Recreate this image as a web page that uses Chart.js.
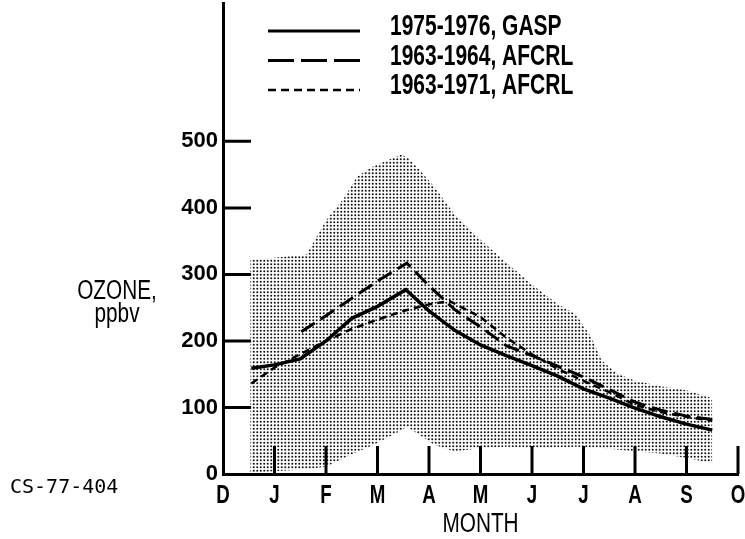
<!DOCTYPE html>
<html>
<head>
<meta charset="utf-8">
<script src="https://cdn.jsdelivr.net/npm/chart.js@4.4.0/dist/chart.umd.min.js"></script>
<style>
  html, body { margin: 0; padding: 0; background: #fff; }
  #wrap { width: 745px; height: 539px; }
</style>
</head>
<body>
<div id="wrap"><canvas id="chart" width="745" height="539"></canvas></div>
<script>
// month axis: 0 = D ... 10 = O
const monthLabels = ['D', 'J', 'F', 'M', 'A', 'M', 'J', 'J', 'A', 'S', 'O'];
const yTickValues = [0, 100, 200, 300, 400, 500];

// 1975-1976, GASP (solid)
const gaspMonths = [0.55, 1.0, 1.5, 2.0, 2.5, 3.0, 3.55, 4.0, 4.5, 5.0, 5.5, 6.0, 6.5, 7.0, 7.5, 8.0, 8.5, 9.0, 9.5];
const gaspOzone  = [159, 164, 173, 200, 234, 252, 277, 245, 216, 194, 178, 163, 147, 128, 114, 99, 86, 75, 66];

// 1963-1964, AFCRL (long dash)
const afcrl6364Months = [1.52, 2.0, 2.5, 3.0, 3.57, 4.0, 4.5, 5.0, 5.5, 6.0, 6.5, 7.0, 7.5, 8.0, 8.5, 9.0, 9.5];
const afcrl6364Ozone  = [214, 238, 264, 290, 317, 283, 247, 221, 193, 178, 162, 146, 127, 108, 96, 87, 82];

// 1963-1971, AFCRL (short dash)
const afcrl6371Months = [0.55, 1.0, 1.5, 2.0, 2.5, 3.0, 3.5, 4.0, 4.4, 5.0, 5.5, 6.0, 6.5, 7.0, 7.5, 8.0, 8.5, 9.0, 9.5];
const afcrl6371Ozone  = [136, 160, 180, 200, 218, 232, 245, 255, 260, 236, 205, 180, 158, 140, 123, 104, 93, 86, 80];

// shaded range of all observations
const bandMonths = [0.53, 1.0, 1.62, 2.0, 2.35, 2.6, 2.9, 3.45, 3.57, 3.75, 4.1, 4.5, 5.0, 5.5, 6.0, 6.5, 6.85, 7.15, 7.35, 7.65, 8.0, 8.5, 9.0, 9.5];
const bandUpper  = [322, 325, 330, 381, 415, 447, 462, 480, 477, 463, 432, 390, 352, 318, 285, 255, 240, 206, 171, 151, 140, 132, 126, 114];
const bandLower  = [2, 4, 7, 11, 24, 33, 43, 65, 71, 62, 44, 34, 39, 41, 39, 40, 41, 40, 39, 37, 34, 31, 24, 16];

function toPoints(xs, ys) {
    return xs.map((x, i) => ({ x: x, y: ys[i] }));
}

// halftone dots for the band
function makeDots() {
    const tile = document.createElement('canvas');
    tile.width = 7;
    tile.height = 7;
    const t = tile.getContext('2d');
    t.fillStyle = '#111';
    [[1.75, 1.75], [5.25, 1.75], [1.75, 5.25], [5.25, 5.25]].forEach(p => {
        t.beginPath();
        t.arc(p[0], p[1], 1.0, 0, Math.PI * 2);
        t.fill();
    });
    return document.getElementById('chart').getContext('2d').createPattern(tile, 'repeat');
}

function drawText(ctx, text, x, y, font, squeeze, align) {
    ctx.save();
    ctx.font = font;
    ctx.fillStyle = '#000';
    ctx.textAlign = align;
    ctx.textBaseline = 'middle';
    ctx.translate(x, y);
    ctx.scale(squeeze, 1);
    ctx.fillText(text, 0, 0);
    ctx.restore();
}

const SANS = '"Liberation Sans", Arial, sans-serif';

const legendItems = [
    { text: '1975-1976, GASP', dash: [], width: 3 },
    { text: '1963-1964, AFCRL', dash: [26, 7], width: 3 },
    { text: '1963-1971, AFCRL', dash: [8, 5], width: 2.5 }
];

const decorPlugin = {
    id: 'decor',
    afterDraw(chart) {
        const ctx = chart.ctx;
        const xs = chart.scales.x;
        const ys = chart.scales.y;
        const area = chart.chartArea;

        // tick marks pointing into the plot
        ctx.save();
        ctx.strokeStyle = '#000';
        ctx.lineWidth = 3;
        ctx.beginPath();
        yTickValues.forEach(v => {
            if (v === 0) return;
            const y = ys.getPixelForValue(v);
            ctx.moveTo(area.left, y);
            ctx.lineTo(area.left + 28, y);
        });
        for (let i = 1; i < monthLabels.length; i++) {
            const x = xs.getPixelForValue(i);
            ctx.moveTo(x, area.bottom);
            ctx.lineTo(x, area.bottom - 28);
        }
        ctx.stroke();
        ctx.restore();

        // month letters
        monthLabels.forEach((m, i) => {
            drawText(ctx, m, xs.getPixelForValue(i), 496, 'bold 26px ' + SANS, 0.72, 'center');
        });
        drawText(ctx, 'MONTH', (area.left + area.right) / 2, 525, '27px ' + SANS, 0.77, 'center');
        drawText(ctx, 'OZONE,', 117, 292, '27px ' + SANS, 0.77, 'center');
        drawText(ctx, 'ppbv', 117, 315, '27px ' + SANS, 0.77, 'center');
        drawText(ctx, 'CS-77-404', 10, 488, '20px "DejaVu Sans Mono", monospace', 1, 'left');

        // legend
        legendItems.forEach((item, i) => {
            const y = 31 + i * 29.5;
            ctx.save();
            ctx.strokeStyle = '#000';
            ctx.lineWidth = item.width;
            ctx.setLineDash(item.dash);
            ctx.beginPath();
            ctx.moveTo(268, y);
            ctx.lineTo(360, y);
            ctx.stroke();
            ctx.restore();
            drawText(ctx, item.text, 390, y - 4, 'bold 30px ' + SANS, 0.7, 'left');
        });
    }
};

new Chart(document.getElementById('chart'), {
    type: 'line',
    data: {
        datasets: [
            {
                label: '1975-1976, GASP',
                data: toPoints(gaspMonths, gaspOzone),
                borderColor: '#000',
                borderWidth: 3.5,
                pointRadius: 0,
                fill: false
            },
            {
                label: '1963-1964, AFCRL',
                data: toPoints(afcrl6364Months, afcrl6364Ozone),
                borderColor: '#000',
                borderWidth: 3,
                borderDash: [16, 7],
                pointRadius: 0,
                fill: false
            },
            {
                label: '1963-1971, AFCRL',
                data: toPoints(afcrl6371Months, afcrl6371Ozone),
                borderColor: '#000',
                borderWidth: 2.5,
                borderDash: [7, 5],
                pointRadius: 0,
                fill: false
            },
            {
                label: 'range upper',
                data: toPoints(bandMonths, bandUpper),
                borderWidth: 0,
                borderColor: 'rgba(0,0,0,0)',
                backgroundColor: makeDots(),
                pointRadius: 0,
                fill: '+1'
            },
            {
                label: 'range lower',
                data: toPoints(bandMonths, bandLower),
                borderWidth: 0,
                borderColor: 'rgba(0,0,0,0)',
                pointRadius: 0,
                fill: false
            }
        ]
    },
    options: {
        responsive: false,
        animation: false,
        devicePixelRatio: 1,
        layout: { padding: { left: 0, right: 7, top: 3, bottom: 0 } },
        plugins: {
            legend: { display: false },
            tooltip: { enabled: false }
        },
        elements: { line: { tension: 0 } },
        scales: {
            x: {
                type: 'linear',
                min: 0,
                max: 10,
                ticks: { display: false },
                grid: { display: false, drawTicks: false },
                border: { display: true, width: 3, color: '#000' },
                afterFit: s => { s.height = 65; s.paddingLeft = 0; s.paddingRight = 0; }
            },
            y: {
                type: 'linear',
                min: 0,
                max: 708,
                afterBuildTicks: s => { s.ticks = yTickValues.map(v => ({ value: v })); },
                ticks: {
                    color: '#000',
                    padding: 5,
                    font: { family: SANS, size: 22, weight: 'bold' }
                },
                grid: { display: false, drawTicks: false },
                border: { display: true, width: 3, color: '#000' },
                afterFit: s => { s.width = 223; s.paddingTop = 0; s.paddingBottom = 0; }
            }
        }
    },
    plugins: [decorPlugin]
});
</script>
</body>
</html>
